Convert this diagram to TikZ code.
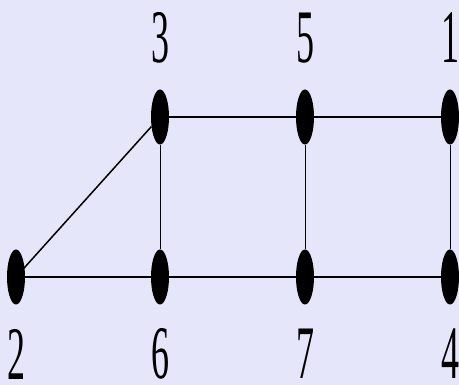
\documentclass[tikz,border=0pt]{standalone}
\usepackage{fontspec}
\setmainfont{Liberation Serif}
\usetikzlibrary{shapes.geometric}
\definecolor{lavbg}{HTML}{E6E6FA}

\begin{document}
\begin{tikzpicture}[x=1pt,y=1pt,
    vtx/.style={ellipse,fill=black,inner sep=0pt,minimum width=18pt,minimum height=55pt},
    lbl/.style={inner sep=0pt,font=\fontsize{36}{36}\selectfont},
    hedge/.style={line width=2pt},
    vedge/.style={line width=0.8pt}]
    \fill[lavbg] (0,0) rectangle (459,385);
    \useasboundingbox (0,0) rectangle (459,385);
    \foreach \n/\x/\y/\ly in {%
      3/160/268/347, 5/305/268/347, 1/450/268/347,
      2/16/108/31, 6/160/108/31, 7/305/108/31, 4/450/108/31}{
      \node[vtx] (v\n) at (\x,\y) {};
      \node[lbl] (l\n) at (\x,\ly) {\scalebox{1}[2.1]{\n}};}
    \foreach \a/\b in {3/5, 5/1, 2/6, 6/7, 7/4}
      \draw[hedge] (v\a) -- (v\b);
    \foreach \a/\b in {3/6, 5/7, 1/4}
      \draw[vedge] (v\a) -- (v\b);
    \draw[line width=1.5pt] (v2.center) -- (v3);
  \end{tikzpicture}
\end{document}
